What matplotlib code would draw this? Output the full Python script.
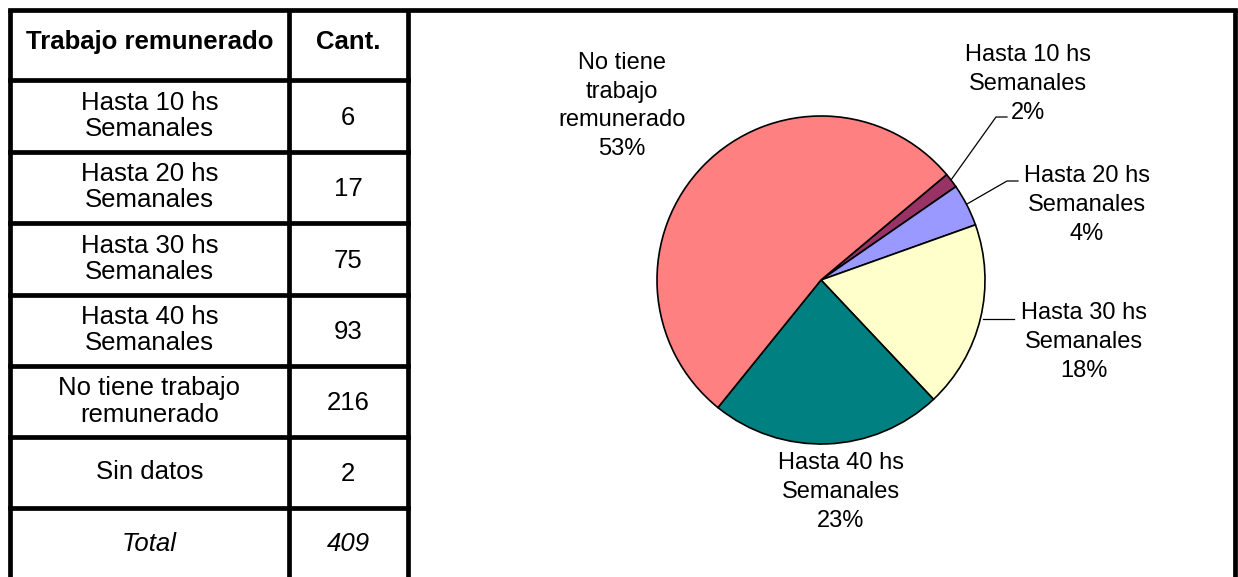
import matplotlib
matplotlib.use("Agg")
import matplotlib.pyplot as plt

# ---- data ----
table_header = ["Trabajo remunerado", "Cant."]
table_categories = ["Hasta 10 hs\nSemanales", "Hasta 20 hs\nSemanales", "Hasta 30 hs\nSemanales",
                    "Hasta 40 hs\nSemanales", "No tiene trabajo\nremunerado", "Sin datos"]
table_counts = [6, 17, 75, 93, 216, 2]
total_label = "Total"
total_value = 409

pie_labels = ["Hasta 10 hs\nSemanales", "Hasta 20 hs\nSemanales", "Hasta 30 hs\nSemanales",
              "Hasta 40 hs\nSemanales", "No tiene\ntrabajo\nremunerado"]
pie_values = [6, 17, 75, 93, 216]
pie_pct = ["2%", "4%", "18%", "23%", "53%"]
pie_colors = ["#993366", "#9999FF", "#FFFFCC", "#008080", "#FF8080"]

W, H = 1238, 577
plt.rcParams['font.family'] = ['Liberation Sans', 'DejaVu Sans']

fig = plt.figure(figsize=(W / 100, H / 100), dpi=100)
ax = fig.add_axes([0, 0, 1, 1])

def Y(y):
    return H - y

# ---- pie ----
cx, cy, r = 821, 280, 164
ax.pie(pie_values, colors=pie_colors, startangle=40, counterclock=False,
       center=(cx, Y(cy)), radius=r,
       wedgeprops=dict(edgecolor="black", linewidth=1.2))

# pie labels (pixel positions of label block centres)
label_pos = [(1028, 84), (1087, 205), (1084, 342), (841, 492), (622, 106)]
for lab, pct, (lx, ly) in zip(pie_labels, pie_pct, label_pos):
    ax.text(lx, Y(ly), lab + "\n" + pct, ha="center", va="center", fontsize=17,
            linespacing=1.4, multialignment="center")

# leader lines
leaders = [
    [(951, 180), (996, 117), (1007, 117)],
    [(967, 204), (1007, 181), (1018, 181)],
    [(983, 319), (1014, 319)],
]
for pts in leaders:
    ax.plot([p[0] for p in pts], [Y(p[1]) for p in pts], color="black", lw=0.9)

# ---- table & frame ----
lw = 3.4
kw = dict(color="black", lw=lw, solid_capstyle="projecting")
x_left, x_col, x_tab, x_right = 9.7, 289, 407.5, 1234.5
y_top = 9.5
row_lines = [80, 151.5, 223, 294.5, 366, 437, 507.5]

ax.plot([x_left, x_right], [Y(y_top), Y(y_top)], **kw)
for x in (x_left, x_col, x_tab, x_right):
    ax.plot([x, x], [Y(y_top), Y(H + 5)], color="black", lw=lw, solid_capstyle="butt")
for y in row_lines:
    ax.plot([x_left, x_tab], [Y(y), Y(y)], **kw)

c1 = (x_left + x_col) / 2
c2 = (x_col + x_tab) / 2
tfs = 18.5
bounds = [y_top] + row_lines + [H]
# header
ax.text(c1, Y(42), table_header[0], ha="center", va="center", fontsize=tfs, fontweight="bold")
ax.text(c2, Y(42), table_header[1], ha="center", va="center", fontsize=tfs, fontweight="bold")
for i, (cat, cnt) in enumerate(zip(table_categories, table_counts)):
    yc = (bounds[i + 1] + bounds[i + 2]) / 2
    ax.text(c1, Y(yc), cat, ha="center", va="center", fontsize=tfs, linespacing=1.12)
    ax.text(c2, Y(yc + 2), str(cnt), ha="center", va="center", fontsize=tfs)
yc = (bounds[-2] + bounds[-1]) / 2 + 2
ax.text(c1, Y(yc), total_label, ha="center", va="center", fontsize=tfs, fontstyle="italic")
ax.text(c2, Y(yc), str(total_value), ha="center", va="center", fontsize=tfs, fontstyle="italic")

ax.set_xlim(0, W)
ax.set_ylim(0, H)
ax.set_aspect("auto")
ax.axis("off")

fig.savefig("out.png", dpi=100)
